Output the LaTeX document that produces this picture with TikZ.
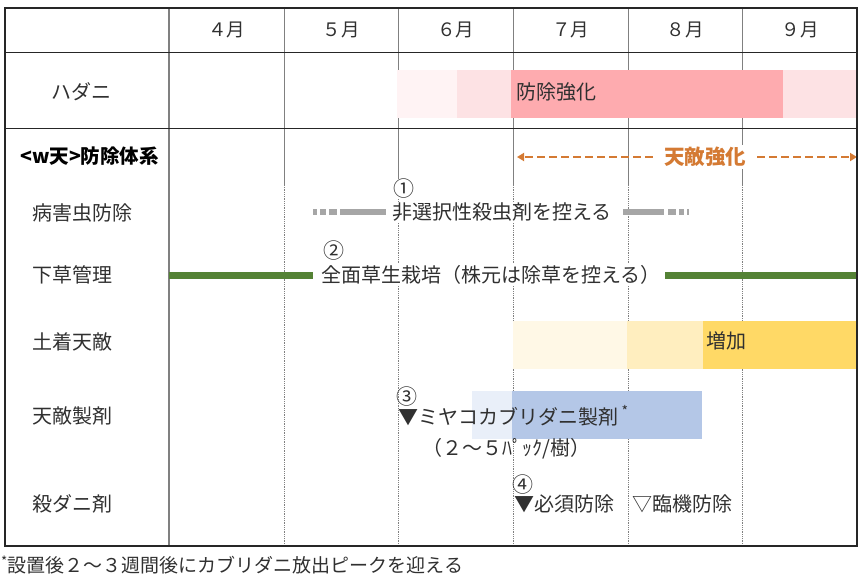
\documentclass[tikz,border=0pt]{standalone}
\usepackage{fontspec}
\setmainfont{Noto Sans CJK JP}
\usetikzlibrary{arrows.meta}

\definecolor{gridline}{HTML}{808080}
\definecolor{frame}{HTML}{262626}
\definecolor{txt}{HTML}{303030}
\definecolor{pinkpale}{HTML}{FFF3F4}
\definecolor{pinklight}{HTML}{FDE2E4}
\definecolor{pinkstrong}{HTML}{FEABAF}
\definecolor{yelpale}{HTML}{FFF8E6}
\definecolor{yellight}{HTML}{FFEEBF}
\definecolor{yelstrong}{HTML}{FFD966}
\definecolor{bluepale}{HTML}{E9EFF9}
\definecolor{bluestrong}{HTML}{B4C7E7}
\definecolor{grassgreen}{HTML}{548235}
\definecolor{spraygray}{HTML}{A6A6A6}
\definecolor{tenorange}{HTML}{D47A33}

\tikzset{
	lbl/.style={font=\fontsize{20}{22}\selectfont, text=txt, inner sep=1pt},
	cell/.style={lbl, fill=white},
	numlbl/.style={font=\fontsize{21}{23}\selectfont, text=txt, inner sep=0pt, anchor=west},
	spraybar/.style={spraygray, line width=6pt},
	grassbar/.style={grassgreen, line width=7pt},
	tenarrow/.style={tenorange, line width=2.2pt, dash pattern=on 8pt off 4pt, -{Triangle[length=7pt,width=8pt]}}
}

\begin{document}
\begin{tikzpicture}[x=1pt,y=-1pt]
	\useasboundingbox (0,0) rectangle (860,582);
	
	% Month grid
	\foreach \x in {284,398,513,628,742} {
		\draw[gridline, line width=0.8pt] (\x,8) -- (\x,185);
		\draw[gridline, line width=0.8pt, densely dotted] (\x,185) -- (\x,546);
	}
	\draw[gridline, line width=1.1pt] (169,8) -- (169,546);
	\draw[frame, line width=0.9pt] (5,52) -- (857,52) (5,128) -- (857,128);
	
	% Month labels
	\foreach \m [count=\i from 0] in {４,５,６,７,８,９}
		\node[lbl, font=\fontsize{18.5}{20}\selectfont] (m\i) at ({226.5+114.7*\i},30) {\m 月};
	
	% Hadani bands
	\fill[pinkpale] (397,70) rectangle (457,118);
	\fill[pinklight] (457,70) rectangle (511,118);
	\fill[pinkstrong] (511,70) rectangle (783,118);
	\fill[pinklight] (783,70) rectangle (857,118);
	
	% Native enemy bands
	\fill[yelpale] (513,321) rectangle (627,369);
	\fill[yellight] (627,321) rectangle (703,369);
	\fill[yelstrong] (703,321) rectangle (857,369);
	
	% Release bands
	\fill[bluepale] (472,391) rectangle (512,439);
	\fill[bluestrong] (512,391) rectangle (702,439);
	
	% Row labels
	\node[lbl] (hadani) at (81,92) {ハダニ};
	\node[lbl, font=\fontsize{19.5}{21}\selectfont\bfseries, text=black, anchor=west] (taikei) at (19,156) {<w天>防除体系};
	\node[lbl, anchor=west] (byo) at (31,213) {病害虫防除};
	\node[lbl, anchor=west] (sita) at (31,275) {下草管理};
	\node[lbl, anchor=west] (dochaku) at (31,342) {土着天敵};
	\node[lbl, anchor=west] (seizai) at (31,416) {天敵製剤};
	\node[lbl, anchor=west] (satsu) at (31,504) {殺ダニ剤};
	
	% Hadani text
	\node[lbl, anchor=west] (kyoka) at (515,92) {防除強化};
	
	% Tenteki arrows
	\node[lbl, font=\fontsize{20.5}{22}\selectfont\bfseries, text=tenorange, fill=white, inner sep=2pt] (tenteki) at (705,157) {天敵強化};
	\coordinate (tenL) at (517,157);
	\coordinate (tenR) at (857,157);
	\draw[tenarrow] ([xshift=-9pt]tenteki.west) -- (tenL);
	\draw[tenarrow] ([xshift=9pt]tenteki.east) -- (tenR);
	
	% Pest control
	\node[numlbl, fill=white] (n1) at (393,189) {①};
	\node[cell, anchor=west] (hisen) at (391,212) {非選択性殺虫剤を控える};
	\draw[spraybar, dash pattern=on 4pt off 3pt on 6pt off 3pt on 8pt off 3pt on 46pt] (313,212) -- (386,212);
	\draw[spraybar, dash pattern=on 41pt off 4pt on 8pt off 3pt on 5pt off 3pt on 3pt] (623,212) -- (689,212);
	
	% Ground cover
	\node[numlbl, fill=white] (n2) at (323,251) {②};
	\node[cell, anchor=west] (zensou) at (320,275) {全面草生栽培（株元は除草を控える）};
	\draw[grassbar] (169,275) -- (313,275);
	\draw[grassbar] (665,275) -- (857,275);
	
	% Native enemies
	\node[lbl, anchor=west] (zouka) at (705,341) {増加};
	
	% Release
	\node[numlbl] (n3) at (396,397) {③};
	\node[lbl, anchor=west] (miyako) at (397,416) {▼ミヤコカブリダニ製剤\,\textsuperscript{*}};
	\node[lbl, anchor=west] (pack) at (421,449) {（２～５ﾊﾟｯｸ/樹）};
	
	% Acaricide
	\node[numlbl] (n4) at (512,485) {④};
	\node[lbl, anchor=west] (hissu) at (513,504) {▼必須防除};
	\node[lbl, anchor=west] (rinki) at (631,504) {▽臨機防除};
	
	% Frame
	\draw[frame, line width=1.2pt] (5,8) rectangle (857,546);
	
	% Footnote
	\node[lbl, font=\fontsize{19}{21}\selectfont, anchor=west] (note) at (0,565) {\textsuperscript{*}設置後２～３週間後にカブリダニ放出ピークを迎える};
	
\end{tikzpicture}
\end{document}
